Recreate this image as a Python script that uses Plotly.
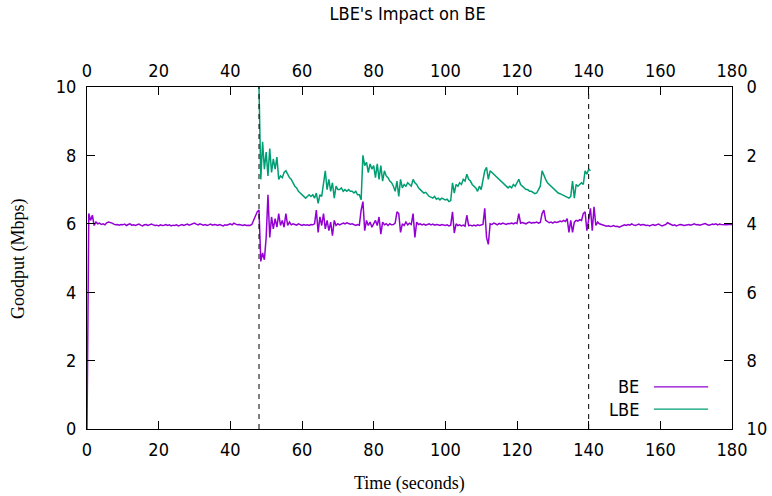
import plotly.graph_objects as go

# ---------------- data ----------------
title_text = "LBE's Impact on BE"
x_label = "Time (seconds)"
y_label = "Goodput (Mbps)"
series_names = ["BE", "LBE"]

x_ticks = [0, 20, 40, 60, 80, 100, 120, 140, 160, 180]
y_ticks = [0, 2, 4, 6, 8, 10]
event_times = [48, 140]          # dashed markers: LBE flow start / stop

be_step = 0.5
be_start = 0.0
be_goodput = [
    # 0 - 9.5
    0.0, 6.3, 6.1, 6.25, 5.95, 6.05, 6.0, 6.02, 5.98, 6.0, 5.97, 6.03, 6.05, 6.04, 6.02, 5.99, 5.97, 5.98, 5.96, 5.98,
    # 10 - 19.5
    5.97, 5.99, 5.95, 5.98, 6.0, 5.96, 5.97, 5.95, 5.98, 5.99, 5.96, 5.94, 5.97, 5.98, 5.95, 5.96, 5.99, 5.97, 5.95, 5.96,
    # 20 - 29.5
    5.94, 5.97, 5.95, 5.96, 5.98, 5.95, 5.97, 5.94, 5.96, 5.95, 5.97, 5.94, 5.96, 5.98, 5.95, 5.97, 5.99, 5.96, 5.98, 6.0,
    # 30 - 39.5
    6.02, 5.99, 5.97, 6.0, 5.98, 5.96, 5.98, 5.95, 5.97, 5.99, 5.96, 5.98, 5.97, 5.95, 5.98, 5.96, 5.94, 5.97, 5.96, 5.98,
    # 40 - 47.5
    6.0, 5.97, 6.02, 5.99, 5.97, 5.98, 5.96, 5.95, 5.97, 5.95, 5.96, 5.95, 5.98, 6.1, 6.2, 6.35,
    # 48 - 57.5
    6.4, 4.9, 5.15, 4.95, 5.6, 6.85, 5.6, 6.2, 5.85, 6.15, 5.9, 6.3, 5.95, 6.1, 5.9, 6.3, 5.95, 6.05, 5.97, 6.0,
    # 58 - 67.5
    5.98, 5.96, 6.0, 5.97, 5.95, 5.98, 5.96, 5.97, 5.95, 5.98, 5.97, 6.0, 6.4, 5.75, 6.2, 5.95, 6.3, 5.85, 6.1, 5.8,
    # 68 - 77.5
    6.05, 5.65, 6.1, 5.95, 6.0, 5.97, 5.99, 6.02, 6.0, 6.03, 6.01, 5.99, 6.0, 5.97, 5.95, 5.98, 5.96, 6.4, 6.65, 5.8,
    # 78 - 87.5
    6.1, 5.95, 6.05, 5.9, 6.0, 6.1, 5.95, 6.2, 5.7, 6.05, 5.97, 6.0, 5.95, 6.0, 5.97, 5.98, 6.02, 6.35, 6.3, 5.75,
    # 88 - 97.5
    6.0, 5.95, 6.05, 5.97, 6.02, 5.98, 6.3, 5.6, 6.05, 5.98, 6.0, 5.97, 5.99, 5.96, 5.98, 6.0, 5.97, 5.99, 5.96, 5.98,
    # 98 - 107.5
    5.97, 5.95, 5.98, 5.96, 5.95, 5.97, 5.94, 5.96, 6.35, 5.73, 6.0, 5.95, 5.97, 5.94, 5.96, 5.93, 6.25, 5.95, 5.96, 5.94,
    # 108 - 117.5
    5.96, 5.94, 5.97, 5.95, 5.96, 5.98, 6.45, 5.6, 5.4, 6.0, 5.98, 6.02, 6.0, 5.97, 6.01, 5.99, 6.02, 6.0, 5.98, 6.01,
    # 118 - 127.5
    6.0, 6.02, 6.0, 6.03, 6.01, 6.3, 6.02, 6.04, 6.02, 6.0, 6.03, 6.05, 6.02, 6.04, 6.03, 6.05, 6.02, 6.04, 6.3, 6.4,
    # 128 - 137.5
    6.1, 6.05, 6.03, 6.05, 6.02, 6.06, 6.04, 6.05, 6.08, 6.06, 6.1, 6.07, 6.15, 5.75, 6.1, 5.75, 6.05, 6.1, 6.08, 6.12,
    # 138 - 147.5
    6.1, 6.3, 6.35, 5.8, 6.2, 6.45, 5.8, 6.5, 5.95, 6.05, 6.0, 5.98, 5.97, 5.95, 5.93, 5.94, 5.92, 5.93, 5.95, 5.92,
    # 148 - 157.5
    5.93, 5.9, 5.92, 5.94, 5.97, 5.95, 5.98, 5.96, 6.0, 5.97, 5.95, 5.97, 5.99, 5.96, 5.98, 5.97, 5.95, 5.96, 5.94, 5.96,
    # 158 - 167.5
    5.98, 5.95, 5.97, 5.99, 5.96, 5.94, 5.96, 5.98, 6.03, 6.0, 5.97, 5.95, 5.97, 5.94, 5.96, 5.98, 5.97, 5.95, 5.96, 5.97,
    # 168 - 177.5
    5.98, 5.96, 5.99, 6.0, 5.97, 5.98, 5.96, 5.97, 5.99, 6.01, 5.98, 5.96, 5.97, 5.99, 5.98, 6.0, 5.97, 5.99, 5.98, 5.97,
    # 178 - 180
    5.98, 5.97, 5.98, 5.97, 5.98,
]

lbe_step = 0.5
lbe_start = 48.0
lbe_goodput = [
    10.0, 7.3, 8.4, 7.6, 8.1, 7.4, 8.2, 7.5, 7.9, 7.6,          # 48 - 52.5
    7.95, 7.3, 7.4, 7.35, 7.5, 7.55, 7.45, 7.35, 7.3, 7.2,      # 53 - 57.5
    7.1, 7.05, 6.95, 6.9, 6.85, 6.8, 6.75, 6.8, 6.85, 6.8,      # 58 - 62.5
    6.85, 6.75, 6.9, 6.6, 6.85, 6.8, 7.2, 7.55, 7.0, 7.3,       # 63 - 67.5
    6.95, 7.2, 6.75, 7.1, 7.0, 7.0, 7.05, 6.95, 7.0, 6.95,      # 68 - 72.5
    7.0, 6.95, 6.95, 6.9, 6.95, 6.85, 6.85, 6.7, 8.0, 7.7,      # 73 - 77.5
    7.8, 7.5, 7.75, 7.6, 7.7, 7.35, 7.75, 7.3, 7.7, 7.25,       # 78 - 82.5
    7.55, 7.4, 7.35, 7.25, 7.2, 7.1, 6.95, 7.25, 6.8, 7.3,      # 83 - 87.5
    7.05, 7.15, 7.1, 7.2, 7.15, 7.1, 7.3, 7.2, 7.15, 7.05,      # 88 - 92.5
    7.0, 6.95, 6.9, 6.92, 6.85, 6.8, 6.78, 6.75, 6.8, 6.72,     # 93 - 97.5
    6.75, 6.7, 6.75, 6.72, 6.7, 6.72, 6.65, 6.68, 7.2, 6.9,     # 98 - 102.5
    7.15, 7.1, 7.2, 7.15, 7.3, 7.25, 7.45, 7.3, 7.25, 7.15,     # 103 - 107.5
    7.1, 7.05, 6.95, 7.1, 7.0, 7.3, 7.55, 7.65, 7.3, 7.55,      # 108 - 112.5
    7.5, 7.45, 7.4, 7.35, 7.3, 7.25, 7.2, 7.15, 7.1, 7.05,      # 113 - 117.5
    7.1, 7.05, 7.15, 7.1, 7.2, 7.3, 7.15, 7.1, 7.05, 7.0,       # 118 - 122.5
    7.0, 6.95, 6.95, 6.9, 6.88, 6.9, 7.0, 7.1, 7.55, 7.4,       # 123 - 127.5
    7.3, 7.2, 7.15, 7.1, 7.05, 7.0, 6.95, 6.9, 6.88, 6.85,      # 128 - 132.5
    6.82, 6.8, 6.78, 6.75, 6.8, 7.25, 6.75, 7.15, 7.1, 7.15,    # 133 - 137.5
    7.2, 7.15, 7.55, 7.45, 7.6, 7.55,                           # 138 - 140.5
]

be_time = [be_start + i * be_step for i in range(len(be_goodput))]
lbe_time = [lbe_start + i * lbe_step for i in range(len(lbe_goodput))]

x_range = [0, 180]
y_range = [0, 10]

# ---------------- style ----------------
BE_COLOR = "#9400D3"
LBE_COLOR = "#009E73"
SANS = "DejaVu Sans Condensed, DejaVu Sans, sans-serif"
SERIF = "Liberation Serif, Times New Roman, serif"
TICK_FONT = dict(family=SANS, size=18, color="#000")

fig = go.Figure()
fig.add_trace(go.Scatter(x=be_time, y=be_goodput, mode="lines", name=series_names[0],
                         line=dict(color=BE_COLOR, width=1.5), showlegend=False))
fig.add_trace(go.Scatter(x=lbe_time, y=lbe_goodput, mode="lines", name=series_names[1],
                         line=dict(color=LBE_COLOR, width=1.5), showlegend=False))
# invisible trace to anchor the mirrored top / right axes
fig.add_trace(go.Scatter(x=x_range, y=y_range, xaxis="x2", yaxis="y2", mode="lines",
                         line=dict(width=0), opacity=0, hoverinfo="skip", showlegend=False))

axis_common = dict(showline=True, linecolor="#000", linewidth=1, ticks="inside",
                   ticklen=8, tickwidth=1, tickcolor="#000", showgrid=False,
                   zeroline=False, tickfont=TICK_FONT, automargin=False)

fig.update_layout(
    width=772, height=496,
    margin=dict(l=87, r=40, t=87, b=67),
    paper_bgcolor="white", plot_bgcolor="white",
    title=dict(text=title_text, x=0.528, xanchor="center", y=0.972, yanchor="middle",
               font=dict(family=SANS, size=18, color="#000")),
    xaxis=dict(range=x_range, tickvals=x_ticks, ticklabelstandoff=4, **axis_common),
    xaxis2=dict(range=x_range, tickvals=x_ticks, overlaying="x", side="top",
                anchor="y", ticklabelstandoff=2, **axis_common),
    yaxis=dict(range=y_range, tickvals=y_ticks, ticklabelstandoff=6, **axis_common),
    yaxis2=dict(range=y_range[::-1], tickvals=y_ticks, overlaying="y", side="right",
                anchor="x", ticklabelstandoff=10, **axis_common),
    showlegend=False,
)

# dashed event markers
for t in event_times:
    fig.add_shape(type="line", xref="x", yref="y", x0=t, x1=t, y0=y_range[0], y1=y_range[1],
                  line=dict(color="#000", width=1, dash="5px,5px"))

# axis titles
fig.add_annotation(text=x_label, xref="paper", yref="paper", x=0.5, y=-0.158,
                   xanchor="center", yanchor="middle", showarrow=False,
                   font=dict(family=SERIF, size=18, color="#000"))
fig.add_annotation(text=y_label, xref="paper", yref="paper", x=-0.107, y=0.5,
                   xanchor="center", yanchor="middle", textangle=-90, showarrow=False,
                   font=dict(family=SERIF, size=18, color="#000"))

# gnuplot-style key: label then line sample, bottom right
key_rows = [(series_names[0], BE_COLOR, 0.123), (series_names[1], LBE_COLOR, 0.058)]
for name, color, yp in key_rows:
    fig.add_annotation(text=name, xref="paper", yref="paper", x=0.859, y=yp,
                       xanchor="right", yanchor="middle", showarrow=False,
                       font=dict(family=SANS, size=18, color="#000"))
    fig.add_shape(type="line", xref="paper", yref="paper", x0=0.879, x1=0.963, y0=yp, y1=yp,
                  line=dict(color=color, width=1.2))

fig.write_html("out.html")
